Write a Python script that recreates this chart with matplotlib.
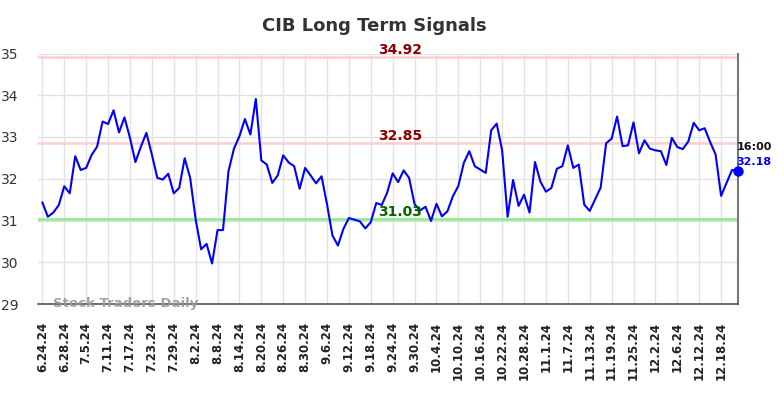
import matplotlib
matplotlib.use("Agg")
import matplotlib.pyplot as plt
import numpy as np

title = "CIB Long Term Signals"
tick_labels = ["6.24.24", "6.28.24", "7.5.24", "7.11.24", "7.17.24", "7.23.24", "7.29.24",
               "8.2.24", "8.8.24", "8.14.24", "8.20.24", "8.26.24", "8.30.24", "9.6.24",
               "9.12.24", "9.18.24", "9.24.24", "9.30.24", "10.4.24", "10.10.24", "10.16.24",
               "10.22.24", "10.28.24", "11.1.24", "11.7.24", "11.13.24", "11.19.24",
               "11.25.24", "12.2.24", "12.6.24", "12.12.24", "12.18.24"]
prices = [31.43, 31.09, 31.19, 31.37, 31.82, 31.65, 32.54, 32.21, 32.26, 32.57,
          32.77, 33.37, 33.31, 33.64, 33.11, 33.47, 32.98, 32.40, 32.77, 33.10,
          32.58, 32.02, 31.98, 32.12, 31.65, 31.78, 32.49, 32.02, 31.03, 30.31,
          30.44, 29.97, 30.77, 30.77, 32.18, 32.72, 33.02, 33.43, 33.06, 33.91,
          32.44, 32.34, 31.90, 32.08, 32.56, 32.39, 32.30, 31.76, 32.26, 32.08,
          31.89, 32.06, 31.39, 30.64, 30.40, 30.80, 31.06, 31.02, 30.98, 30.81,
          30.96, 31.42, 31.37, 31.67, 32.13, 31.92, 32.20, 32.02, 31.39, 31.24,
          31.33, 30.99, 31.40, 31.10, 31.22, 31.58, 31.83, 32.38, 32.66, 32.30,
          32.22, 32.14, 33.16, 33.32, 32.68, 31.09, 31.97, 31.35, 31.62, 31.19,
          32.40, 31.93, 31.69, 31.78, 32.24, 32.30, 32.80, 32.26, 32.34, 31.38,
          31.23, 31.51, 31.79, 32.85, 32.96, 33.49, 32.78, 32.80, 33.35, 32.61,
          32.92, 32.72, 32.68, 32.66, 32.33, 32.98, 32.76, 32.71, 32.89, 33.34,
          33.16, 33.21, 32.88, 32.58, 31.59, 31.90, 32.21, 32.18]
upper_level = 34.92
mid_level = 32.85
lower_level = 31.03
last_time = "16:00"
last_value = 32.18
y_ticks = [29, 30, 31, 32, 33, 34, 35]
watermark = "Stock Traders Daily"

fig = plt.figure(figsize=(7.84, 3.98), dpi=100)
ax = fig.add_axes([38/784, 1-304/398, (737.5-38)/784, (304-53.5)/398])

x = np.arange(len(prices))
tick_pos = np.arange(0, len(prices), 4)[:len(tick_labels)]

ax.set_xlim(-0.8, len(prices) - 1)
ax.set_ylim(29, 35)
ax.set_yticks(y_ticks)
ax.set_xticks(tick_pos)
ax.set_xticklabels(tick_labels, rotation=90, fontsize=8.5, fontweight="bold", color="#222222")
ax.tick_params(axis="y", length=0, labelsize=10, colors="#333333", pad=14)
ax.tick_params(axis="x", length=0, pad=13)
ax.grid(True, color="#e2e2e2", linewidth=1)
ax.set_axisbelow(True)
for s in ["left", "top"]:
    ax.spines[s].set_visible(False)
ax.spines["bottom"].set_color("#555555")
ax.spines["bottom"].set_linewidth(1.2)
ax.spines["right"].set_color("#777777")
ax.spines["right"].set_linewidth(1.5)

ax.axhline(upper_level, color="#ffcccc", lw=1.8, zorder=1)
ax.axhline(mid_level, color="#ffcccc", lw=1.8, zorder=1)
ax.axhline(lower_level, color="#90ee90", lw=2, zorder=1)

ax.plot(x, prices, color="#0000ff", lw=1.5, zorder=3)
ax.plot([x[-1]], [prices[-1]], "o", color="#0000ff", ms=6.5, zorder=4, clip_on=False)

tx = 0.518
for lvl, col in [(upper_level, "#8b0000"), (mid_level, "#8b0000"), (lower_level, "#006400")]:
    ax.text(tx, lvl + 0.0, f"{lvl:.2f}", transform=ax.get_yaxis_transform(),
            ha="center", va="bottom", color=col, fontsize=10, fontweight="bold")

ax.annotate(last_time, xy=(x[-1], last_value), xytext=(-0.5, 17.5), textcoords="offset points",
            ha="left", va="center", fontsize=8, fontweight="bold", color="#111111")
ax.annotate(f"{last_value:.2f}", xy=(x[-1], last_value), xytext=(-0.5, 6.5), textcoords="offset points",
            ha="left", va="center", fontsize=8, fontweight="bold", color="#0000ff")

ax.text(0.022, 0.0, watermark, transform=ax.transAxes, ha="left", va="center",
        fontsize=9.5, fontweight="bold", color="#999999", alpha=0.9)

fig.text(0.478, 0.935, title, ha="center", va="center", fontsize=13,
         fontweight="bold", color="#333333")

fig.savefig("out.png", dpi=100)
